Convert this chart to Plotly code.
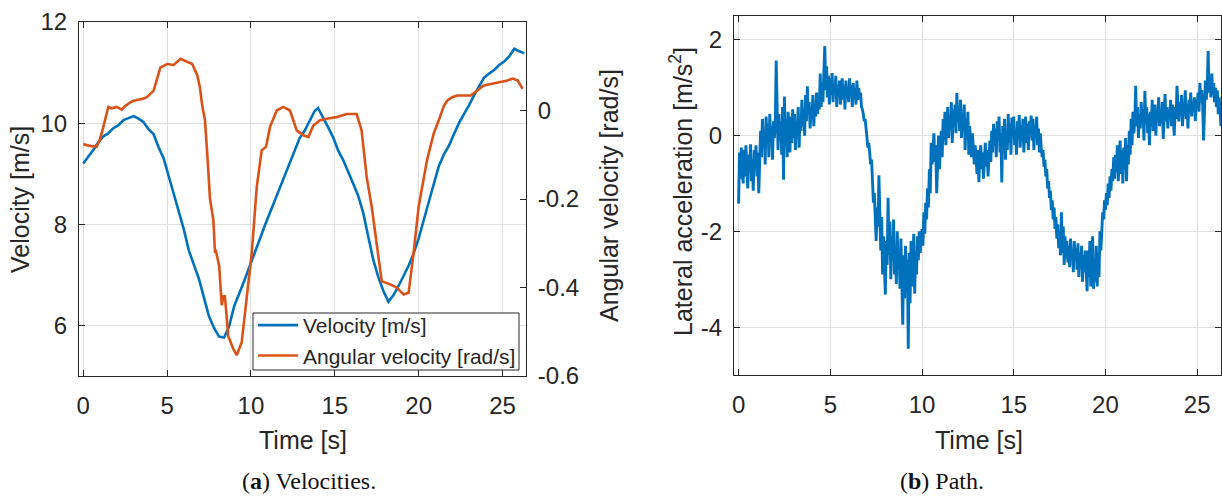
import plotly.graph_objects as go

# ---- Panel (a): forward velocity [m/s] and angular velocity [rad/s] ----
vel_t = [0.0, 0.3, 0.6, 0.9, 1.2, 1.5, 1.8, 2.1, 2.4, 2.7, 3.0, 3.3, 3.6, 3.9, 4.2,
         4.5, 4.8, 5.1, 5.4, 5.7, 6.0, 6.3, 6.6, 6.9, 7.2, 7.5, 7.8, 8.1, 8.4, 8.7,
         9.0, 9.3, 9.6, 9.9, 10.2, 10.5, 10.8, 11.1, 11.4, 11.7, 12.0, 12.3, 12.6,
         12.9, 13.2, 13.5, 13.8, 14.0, 14.3, 14.6, 14.9, 15.2, 15.5, 15.8, 16.1,
         16.4, 16.7, 17.0, 17.3, 17.6, 17.9, 18.2, 18.5, 18.8, 19.1, 19.4, 19.7,
         20.0, 20.3, 20.6, 20.9, 21.2, 21.5, 21.8, 22.1, 22.4, 22.7, 23.0, 23.3,
         23.6, 23.9, 24.2, 24.5, 24.8, 25.1, 25.4, 25.7, 26.0, 26.3]
vel_v = [9.20, 9.33, 9.47, 9.62, 9.74, 9.80, 9.90, 9.96, 10.06, 10.10, 10.14, 10.09,
         10.02, 9.88, 9.78, 9.52, 9.30, 8.95, 8.60, 8.25, 7.90, 7.48, 7.20, 6.92,
         6.55, 6.18, 5.95, 5.78, 5.76, 5.98, 6.38, 6.62, 6.88, 7.15, 7.40, 7.68,
         7.95, 8.22, 8.45, 8.70, 8.95, 9.22, 9.45, 9.70, 9.85, 10.05, 10.24, 10.30,
         10.12, 9.92, 9.72, 9.46, 9.27, 9.05, 8.80, 8.56, 8.22, 7.75, 7.29, 6.95,
         6.68, 6.47, 6.60, 6.78, 6.98, 7.18, 7.42, 7.72, 8.08, 8.45, 8.78, 9.15,
         9.38, 9.55, 9.78, 10.00, 10.18, 10.35, 10.55, 10.72, 10.90, 10.98, 11.05,
         11.15, 11.22, 11.32, 11.47, 11.42, 11.38]

ang_t = [0.0, 0.4, 0.8, 1.0, 1.2, 1.4, 1.5, 1.7, 2.0, 2.3, 2.5, 2.8, 3.0, 3.5, 3.8,
         4.2, 4.4, 4.6, 5.0, 5.4, 5.8, 6.1, 6.5, 6.8, 6.96, 7.1, 7.26, 7.4, 7.56,
         7.76, 7.86, 7.9, 8.11, 8.26, 8.35, 8.45, 8.65, 8.95, 9.15, 9.45, 9.75,
         10.05, 10.35, 10.64, 10.9, 11.14, 11.54, 11.93, 12.33, 12.73, 13.13, 13.43,
         13.72, 14.12, 14.6, 15.1, 15.7, 16.3, 16.6, 16.9, 17.2, 17.5, 17.8, 18.3,
         18.7, 19.1, 19.4, 19.7, 20.0, 20.5, 20.9, 21.2, 21.5, 21.7, 22.0, 22.3,
         23.1, 23.5, 23.85, 24.3, 24.85, 25.3, 25.6, 25.9, 26.2]
ang_w = [-0.076, -0.080, -0.082, -0.065, -0.037, -0.010, 0.008, 0.005, 0.008, 0.002,
         0.010, 0.018, 0.022, 0.026, 0.030, 0.045, 0.070, 0.097, 0.105, 0.103, 0.117,
         0.112, 0.105, 0.080, 0.052, 0.010, -0.022, -0.100, -0.200, -0.247, -0.322,
         -0.315, -0.352, -0.440, -0.420, -0.420, -0.510, -0.539, -0.553, -0.524,
         -0.427, -0.322, -0.172, -0.090, -0.082, -0.037, 0.000, 0.008, 0.000, -0.045,
         -0.056, -0.060, -0.034, -0.022, -0.018, -0.015, -0.008, -0.008, -0.045,
         -0.150, -0.217, -0.307, -0.386, -0.393, -0.400, -0.416, -0.412, -0.322,
         -0.217, -0.112, -0.052, -0.022, 0.010, 0.022, 0.030, 0.034, 0.034, 0.045,
         0.056, 0.060, 0.064, 0.068, 0.072, 0.068, 0.049]

# ---- Panel (b): lateral acceleration [m/s^2], one sample every 0.05 s ----
acc_dt = 0.05
acc_a = [
    # 0 s
    -1.42, -0.35, -0.90, -0.25, -0.70, -1.00, -0.30, -0.85, -0.20, -0.60,
    -1.10, -0.40, -0.75, -0.18, -0.95, -0.50, -1.15, -0.30, -0.65, -0.20,
    # 1 s
    -0.85, -0.35, -1.20, -0.55, 0.10, -0.45, 0.35, -0.20, 0.05, -0.60,
    0.40, -0.10, 0.25, -0.45, 0.45, -0.15, 0.20, -0.50, 0.30, -0.05,
    # 2 s
    0.25, 1.57, 0.10, -0.30, 0.45, -0.10, 0.30, -0.40, 0.60, -0.92,
    0.82, -0.20, 0.35, -0.45, 0.50, 0.00, -0.35, 0.40, -0.15, 0.55,
    # 3 s
    -0.05, 0.45, -0.30, 0.30, 0.05, 0.60, -0.25, 0.40, 0.10, 0.75,
    0.20, 0.55, 0.00, 0.85, 0.30, 1.03, 0.45, 0.70, 0.15, 0.60,
    # 4 s
    0.35, 0.85, 0.20, 0.65, 0.40, 0.90, 0.45, 0.75, 0.55, 1.30,
    0.60, 1.10, 0.70, 1.35, 1.87, 0.95, 1.45, 0.80, 1.25, 0.65,
    # 5 s
    1.20, 0.85, 1.31, 0.70, 1.10, 0.90, 1.25, 0.60, 1.05, 0.80,
    1.15, 0.65, 0.95, 1.20, 0.75, 1.05, 0.55, 1.15, 0.85, 1.00,
    # 6 s
    0.70, 1.20, 0.80, 1.05, 0.60, 1.10, 0.85, 0.95, 0.65, 1.15,
    0.75, 1.00, 0.80, 0.90, 0.60, 0.55, 0.45, 0.30, 0.35, 0.10,
    # 7 s
    -0.05, -0.25, -0.15, -0.40, -0.60, -0.50, -0.95, -1.40, -1.20, -1.85,
    -2.20, -1.50, -1.90, -0.83, -1.60, -2.40, -1.70, -2.90, -2.10, -3.10,
    # 8 s
    -3.32, -2.20, -2.70, -1.30, -2.50, -1.80, -3.00, -2.10, -2.60, -1.75,
    -2.90, -2.30, -3.10, -2.00, -2.75, -2.40, -3.20, -2.15, -2.85, -3.95,
    # 9 s
    -2.50, -3.40, -2.30, -3.00, -2.60, -4.45, -2.45, -3.50, -2.20, -3.15,
    -2.70, -2.05, -3.30, -2.40, -2.90, -2.10, -2.60, -2.00, -2.45, -2.15,
    # 10 s
    -1.95, -2.30, -1.60, -2.05, -1.40, -1.75, -1.10, -1.50, -0.70, -1.20,
    -0.15, -0.60, -0.30, 0.05, -0.55, -0.20, -1.20, -0.40, 0.00, -0.70,
    # 11 s
    -0.30, 0.10, -0.45, 0.35, -0.10, 0.50, -0.20, 0.25, 0.60, -0.05,
    0.40, 0.15, 0.70, -0.15, 0.55, 0.20, 0.65, 0.05, 0.89, 0.30,
    # 12 s
    0.60, 0.10, 0.75, -0.05, 0.45, 0.20, 0.65, -0.30, 0.35, 0.00,
    0.50, -0.40, 0.20, -0.15, -0.45, 0.05, -0.25, -0.60, -0.20, -0.50,
    # 13 s
    -0.80, -0.30, -0.97, -0.45, -0.20, -0.70, -0.35, -0.90, -0.50, -0.15,
    -0.65, -0.30, -0.85, -0.40, -0.10, -0.55, 0.10, -0.35, 0.25, -0.20,
    # 14 s
    0.15, -0.45, 0.30, -0.10, 0.40, -0.35, 0.05, -0.98, 0.20, -0.25,
    0.35, -0.50, 0.10, -0.30, 0.45, -0.15, 0.25, -0.40, 0.38, 0.00,
    # 15 s
    0.40, -0.20, 0.15, -0.40, 0.30, 0.00, 0.43, -0.25, 0.20, -0.10,
    0.35, -0.35, 0.10, 0.40, -0.15, 0.25, -0.30, 0.30, 0.05, 0.42,
    # 16 s
    -0.10, 0.35, -0.30, 0.20, 0.00, 0.40, -0.20, 0.15, -0.35, 0.05,
    -0.25, -0.45, -0.30, -0.65, -0.50, -0.85, -0.70, -1.10, -0.95, -1.30,
    # 17 s
    -1.15, -1.55, -1.35, -1.75, -1.50, -1.95, -1.70, -2.15, -1.85, -2.35,
    -2.05, -2.50, -1.60, -2.45, -1.90, -2.70, -2.10, -2.55, -2.20, -2.65,
    # 18 s
    -2.30, -2.75, -2.15, -2.60, -2.40, -2.85, -2.20, -2.55, -2.35, -2.80,
    -2.25, -2.95, -2.45, -2.70, -2.30, -3.05, -2.50, -2.85, -2.40, -3.10,
    # 19 s
    -3.25, -2.40, -2.95, -2.20, -3.15, -2.55, -2.10, -3.20, -2.60, -3.05,
    -2.30, -3.15, -2.45, -2.95, -2.00, -2.40, -1.85, -1.60, -1.75, -1.35,
    # 20 s
    -1.55, -1.20, -1.45, -1.00, -1.30, -0.85, -1.15, -0.70, -0.95, -0.45,
    -0.90, -0.40, -0.75, -0.20, -0.95, -0.35, -0.10, -0.80, -0.30, -1.00,
    # 21 s
    -0.25, -0.70, -0.05, -0.95, -0.20, -0.60, 0.10, -0.40, 0.35, -0.20,
    0.50, 0.05, 0.30, 1.04, 0.20, 0.60, -0.05, 0.45, 0.15, 0.70,
    # 22 s
    0.25, 0.55, -0.10, 0.93, 0.30, 0.60, 0.05, 0.45, -0.20, 0.50,
    0.20, 0.75, 0.10, 0.40, 0.65, 0.00, 0.55, 0.30, 0.80, 0.20,
    # 23 s
    0.50, 0.25, 0.70, -0.07, 0.45, 0.87, 0.30, 0.60, 0.15, 0.55,
    0.35, 0.75, 0.20, 0.65, 0.40, 0.00, 0.60, 0.35, 1.04, 0.45,
    # 24 s
    0.30, 0.70, 0.40, 0.85, 0.20, 0.60, 0.45, 0.95, 0.35, 0.65,
    0.15, 0.75, 0.50, 0.90, 0.40, 0.70, 0.55, 0.80, 0.30, 0.75,
    # 25 s
    0.60, 0.90, 0.50, 1.10, 0.70, 0.95, 0.65, -0.10, 0.85, 1.15,
    0.75, 1.05, 1.77, 0.90, 1.20, 0.80, 1.30, 0.85, 1.10, 0.70,
    # 26 s
    1.00, 0.60, 0.95, 0.45, 0.80, 0.35, 0.20,
]
acc_t = [round(i * acc_dt, 2) for i in range(len(acc_a))]

# ---- Axis ticks ----
time_ticks = [0, 5, 10, 15, 20, 25]
vel_ticks = [6, 8, 10, 12]
ang_ticks = [-0.6, -0.4, -0.2, 0]
ang_ticktext = ["-0.6", "-0.4", "-0.2", "0"]
acc_ticks = [-4, -2, 0, 2]
acc_ticktext = ["-4", "-2", "0", "2"]

BLUE = "#0072BD"
ORANGE = "#D95319"
INK = "#262626"
GRID = "#DFDFDF"
SANS = "Liberation Sans, Arial, sans-serif"
SERIF = "Liberation Serif, Times New Roman, serif"

fig = go.Figure()
fig.add_trace(go.Scatter(x=vel_t, y=vel_v, mode="lines", name="Velocity [m/s]",
                         line=dict(color=BLUE, width=2.6), xaxis="x", yaxis="y"))
fig.add_trace(go.Scatter(x=ang_t, y=ang_w, mode="lines", name="Angular velocity [rad/s]",
                         line=dict(color=ORANGE, width=2.6), xaxis="x", yaxis="y2"))
fig.add_trace(go.Scatter(x=acc_t, y=acc_a, mode="lines", showlegend=False,
                         line=dict(color=BLUE, width=2.9), xaxis="x3", yaxis="y3"))

W, H = 1222, 499
def px_x(p):
    return p / W
def px_y(p):
    return 1 - p / H

common_axis = dict(
    showline=True, linecolor=INK, linewidth=1,
    ticks="inside", ticklen=6, tickcolor=INK, tickwidth=1,
    tickfont=dict(family=SANS, size=24, color=INK),
    zeroline=False, automargin=False,
)

fig.update_layout(
    width=W, height=H,
    margin=dict(l=0, r=0, t=0, b=0, pad=0),
    paper_bgcolor="white", plot_bgcolor="white",
    xaxis=dict(domain=[px_x(79), px_x(526)], range=[-0.25, 26.4], anchor="y",
               tickvals=time_ticks, showgrid=True, gridcolor=GRID, mirror="ticks",
               ticklabelstandoff=8, **common_axis),
    yaxis=dict(domain=[px_y(376), px_y(22)], range=[5, 12], anchor="x",
               tickvals=vel_ticks, showgrid=True, gridcolor=GRID,
               ticklabelstandoff=6, **common_axis),
    yaxis2=dict(overlaying="y", side="right", anchor="x", range=[-0.6, 0.2],
                tickvals=ang_ticks, ticktext=ang_ticktext, showgrid=False,
                ticklabelstandoff=6, **common_axis),
    xaxis3=dict(domain=[px_x(734), px_x(1221)], range=[-0.25, 26.3], anchor="y3",
                tickvals=time_ticks, showgrid=True, gridcolor=GRID, mirror="ticks",
                ticklabelstandoff=8, **common_axis),
    yaxis3=dict(domain=[px_y(375), px_y(16)], range=[-5, 2.5], anchor="x3",
                tickvals=acc_ticks, ticktext=acc_ticktext, showgrid=True,
                gridcolor=GRID, mirror="ticks", ticklabelstandoff=6, **common_axis),
    legend=dict(x=px_x(253), y=px_y(305), xanchor="left", yanchor="top",
                bgcolor="rgba(0,0,0,0)", borderwidth=0,
                font=dict(family=SANS, size=21, color=INK),
                tracegroupgap=0, itemwidth=40),
    showlegend=True,
)

# legend frame
fig.add_shape(type="rect", xref="paper", yref="paper", layer="above",
              x0=px_x(253), x1=px_x(519), y0=px_y(370), y1=px_y(313),
              fillcolor="white", line=dict(color=INK, width=1))

title_font = dict(family=SANS, size=25, color=INK)
annotations = [
    dict(text="Velocity [m/s]", x=px_x(20), y=px_y(200), textangle=-90),
    dict(text="Angular velocity [rad/s]", x=px_x(609), y=px_y(196), textangle=-90),
    dict(text="Time [s]", x=px_x(303), y=px_y(440)),
    dict(text="Lateral acceleration [m/s<sup>2</sup>]", x=px_x(681), y=px_y(192),
         textangle=-90),
    dict(text="Time [s]", x=px_x(979), y=px_y(440)),
]
for a in annotations:
    fig.add_annotation(xref="paper", yref="paper", showarrow=False,
                       xanchor="center", yanchor="middle", font=title_font, **a)

caption_font = dict(family=SERIF, size=24, color="#111111")
fig.add_annotation(text="(<b>a</b>) Velocities.", x=px_x(309), y=px_y(481),
                   xref="paper", yref="paper", showarrow=False,
                   xanchor="center", yanchor="middle", font=caption_font)
fig.add_annotation(text="(<b>b</b>) Path.", x=px_x(942), y=px_y(481),
                   xref="paper", yref="paper", showarrow=False,
                   xanchor="center", yanchor="middle", font=caption_font)

fig.write_html("out.html")
